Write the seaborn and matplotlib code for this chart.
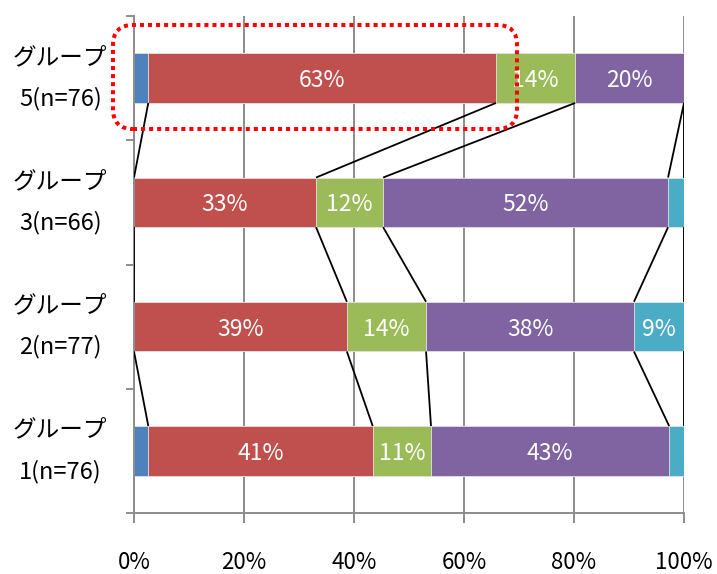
import matplotlib
matplotlib.use("Agg")
import matplotlib.pyplot as plt
from matplotlib.patches import FancyBboxPatch
from matplotlib.transforms import IdentityTransform
import numpy as np
import pandas as pd
import seaborn as sns

# Groups, top to bottom
groups = ["グループ\n5(n=76)", "グループ\n3(n=66)", "グループ\n2(n=77)", "グループ\n1(n=76)"]
series = ["s1", "s2", "s3", "s4", "s5"]
colors = ["#4F81BD", "#C0504D", "#9BBB59", "#8064A2", "#4BACC6"]

# Share of each series per group (%)
s1 = [2.6, 0.0, 0.0, 2.6]
s2 = [63.2, 33.1, 38.7, 40.8]
s3 = [14.4, 12.2, 14.4, 10.6]
s4 = [19.8, 51.8, 37.8, 43.3]
s5 = [0.0, 2.9, 9.1, 2.7]

xticks = [0, 20, 40, 60, 80, 100]
xtick_labels = ["0%", "20%", "40%", "60%", "80%", "100%"]

plt.rcParams["font.family"] = ["Noto Sans CJK JP", "DejaVu Sans"]

df = pd.DataFrame({"group": groups, "s1": s1, "s2": s2, "s3": s3, "s4": s4, "s5": s5})
cum = df[series].cumsum(axis=1)
cum.columns = [c + "_cum" for c in series]
df = pd.concat([df, cum], axis=1)

W, H = 717, 574
fig = plt.figure(figsize=(W / 100, H / 100), dpi=100)
ax = fig.add_axes([134 / W, 1 - 513 / H, 550 / W, (513 - 16) / H])

GRAY = "#8c8c8c"
bar_h = 0.4

# Stacked bars: draw cumulative totals from the last series to the first
for s, c in reversed(list(zip(series, colors))):
    sns.barplot(data=df, x=s + "_cum", y="group", order=groups, orient="h",
                color=c, saturation=1, width=bar_h, edgecolor="#e4e4e4",
                linewidth=0.6, ax=ax, zorder=2)

# Value labels inside the segments
for i in range(len(groups)):
    left = 0.0
    for s in series:
        v = df.loc[i, s]
        if v >= 5:
            ax.text(left + v / 2, i + 0.02, f"{round(v)}%", ha="center", va="center",
                    color="white", fontsize=16.5, zorder=4)
        left += v

# Series lines joining the segment ends of neighbouring bars
for i in range(len(groups) - 1):
    for s in series:
        xu = df.loc[i, s + "_cum"]
        xl = df.loc[i + 1, s + "_cum"]
        ax.plot([xu, xl], [i + bar_h / 2, i + 1 - bar_h / 2], color="black",
                lw=1.3, zorder=3, solid_capstyle="butt")

ax.set_xlim(0, 100)
ax.set_ylim(3.5, -0.5)
ax.set_xlabel("")
ax.set_ylabel("")

ax.set_axisbelow(True)
ax.xaxis.grid(True, color=GRAY, lw=1.4)
ax.yaxis.grid(False)

ax.set_xticks(xticks)
ax.set_xticklabels(xtick_labels, fontsize=16)
ax.tick_params(axis="x", length=7.5, width=1.4, color=GRAY, pad=20)

ax.set_yticks(range(len(groups)))
ax.set_yticklabels(groups, fontsize=17)
ax.set_yticks([-0.5, 0.5, 1.5, 2.5, 3.5], minor=True)
ax.tick_params(axis="y", which="major", length=0, pad=19)
ax.tick_params(axis="y", which="minor", length=5.5, width=1.4, color=GRAY)
for lbl in ax.get_yticklabels():
    lbl.set_multialignment("center")
    lbl.set_linespacing(1.95)
    lbl.set_verticalalignment("center")

for side in ["top", "right"]:
    ax.spines[side].set_visible(False)
for side in ["left", "bottom"]:
    ax.spines[side].set_color(GRAY)
    ax.spines[side].set_linewidth(1.4)

# Dotted highlight frame around the top group
frame = FancyBboxPatch((113, H - 129), 404, 104,
                       boxstyle="round,pad=0,rounding_size=20",
                       transform=IdentityTransform(), fill=False,
                       edgecolor="#FF0000", linewidth=2.9,
                       linestyle=(0, (1, 1)), capstyle="butt", zorder=10)
fig.add_artist(frame)

fig.savefig("out.png", dpi=100)
